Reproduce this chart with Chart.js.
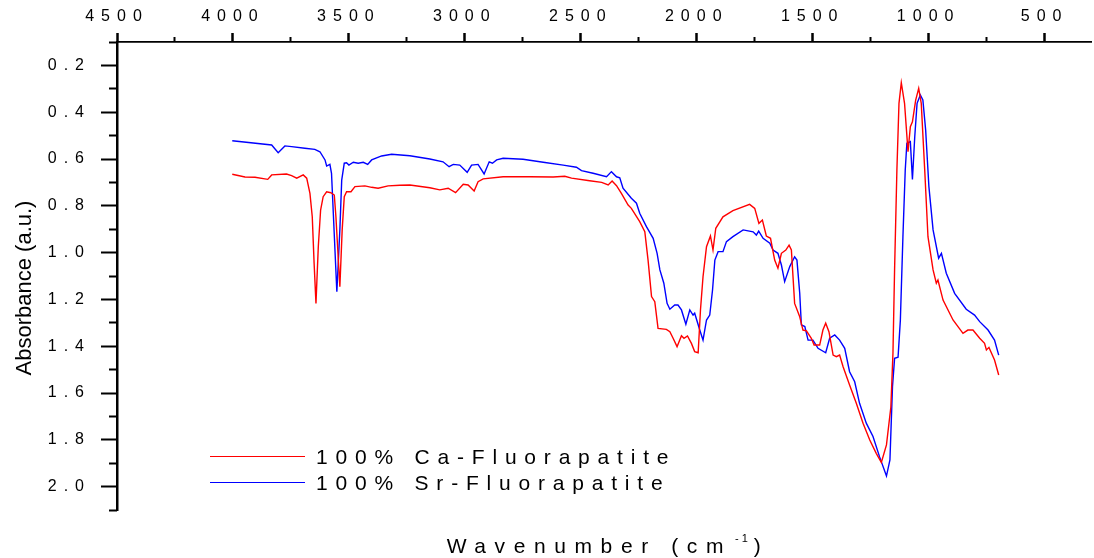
<!DOCTYPE html>
<html>
<head>
<meta charset="utf-8">
<script src="https://cdn.jsdelivr.net/npm/chart.js@4/dist/chart.umd.min.js"></script>
<style>
body { margin: 0; background: #fff; }
#wrap { width: 1094px; height: 558px; }
</style>
</head>
<body>
<div id="wrap"><canvas id="myChart" width="1094" height="558"></canvas></div>
<script>
// tick values
var xMajor = [4500, 4000, 3500, 3000, 2500, 2000, 1500, 1000, 500];
var xMinor = [4250, 3750, 3250, 2750, 2250, 1750, 1250, 750];
var yMajor = [0.2, 0.4, 0.6, 0.8, 1.0, 1.2, 1.4, 1.6, 1.8, 2.0];
var yMinor = [0.1, 0.3, 0.5, 0.7, 0.9, 1.1, 1.3, 1.5, 1.7, 1.9, 2.1];

// 100% Ca-Fluorapatite (red)
var caWave = [4003, 3948, 3905, 3850, 3833, 3769, 3747, 3725, 3697, 3682,
    3668, 3658, 3650, 3642, 3632, 3622, 3611, 3596, 3578, 3563,
    3556, 3539, 3529, 3520, 3510, 3491, 3474, 3431, 3402, 3374,
    3331, 3280, 3237, 3151, 3108, 3072, 3040, 3007, 2986, 2960,
    2943, 2921, 2835, 2720, 2619, 2569, 2540, 2462, 2410, 2382,
    2365, 2346, 2325, 2296, 2282, 2246, 2224, 2210, 2195, 2181,
    2167, 2131, 2116, 2102, 2085, 2066, 2055, 2040, 2023, 2009,
    1994, 1984, 1973, 1958, 1941, 1930, 1918, 1887, 1844, 1772,
    1750, 1732, 1717, 1700, 1682, 1664, 1650, 1635, 1616, 1602,
    1592, 1578, 1556, 1542, 1527, 1506, 1494, 1470, 1456, 1444,
    1430, 1412, 1398, 1384, 1369, 1341, 1312, 1283, 1254, 1226,
    1204, 1182, 1163, 1154, 1147, 1137, 1128, 1118, 1104, 1089,
    1079, 1070, 1056, 1043, 1032, 1017, 1003, 981, 967, 960,
    938, 895, 852, 831, 809, 780, 759, 751, 740, 716,
    698];
var caAbs = [0.665, 0.677, 0.678, 0.687, 0.668, 0.664, 0.671, 0.682, 0.668, 0.682,
    0.747, 0.847, 1.046, 1.217, 0.975, 0.818, 0.761, 0.740, 0.744, 0.754,
    0.847, 1.146, 0.903, 0.761, 0.740, 0.740, 0.718, 0.715, 0.721, 0.725,
    0.715, 0.712, 0.711, 0.723, 0.732, 0.725, 0.744, 0.708, 0.711, 0.737,
    0.697, 0.685, 0.676, 0.676, 0.677, 0.674, 0.682, 0.693, 0.700, 0.711,
    0.694, 0.714, 0.747, 0.797, 0.811, 0.868, 0.911, 1.032, 1.188, 1.210,
    1.324, 1.328, 1.338, 1.366, 1.402, 1.355, 1.366, 1.356, 1.388, 1.423,
    1.428, 1.245, 1.103, 0.975, 0.929, 0.989, 0.896, 0.847, 0.821, 0.794,
    0.811, 0.875, 0.861, 0.929, 0.939, 1.032, 1.067, 1.003, 0.989, 0.968,
    0.989, 1.217, 1.274, 1.331, 1.334, 1.366, 1.395, 1.395, 1.331, 1.302,
    1.338, 1.438, 1.445, 1.438, 1.488, 1.566, 1.644, 1.729, 1.801, 1.858,
    1.897, 1.822, 1.660, 1.430, 1.074, 0.647, 0.362, 0.274, 0.362, 0.569,
    0.462, 0.441, 0.348, 0.298, 0.362, 0.647, 0.932, 1.074, 1.131, 1.117,
    1.203, 1.288, 1.345, 1.331, 1.331, 1.366, 1.388, 1.416, 1.405, 1.459,
    1.523];

// 100% Sr-Fluorapatite (blue)
var srWave = [4003, 3833, 3805, 3776, 3747, 3690, 3647, 3625, 3603, 3596,
    3582, 3575, 3552, 3539, 3531, 3520, 3510, 3500, 3481, 3460,
    3438, 3419, 3402, 3359, 3316, 3237, 3151, 3094, 3068, 3050,
    3022, 2990, 2971, 2943, 2917, 2895, 2881, 2863, 2835, 2749,
    2662, 2576, 2519, 2497, 2447, 2389, 2368, 2346, 2332, 2318,
    2282, 2260, 2246, 2217, 2188, 2171, 2159, 2142, 2128, 2116,
    2095, 2081, 2066, 2047, 2030, 2016, 2009, 1987, 1973, 1958,
    1944, 1932, 1922, 1908, 1887, 1872, 1844, 1800, 1757, 1743,
    1733, 1714, 1685, 1671, 1650, 1635, 1621, 1599, 1578, 1568,
    1556, 1549, 1534, 1520, 1499, 1477, 1444, 1427, 1405, 1384,
    1362, 1341, 1319, 1298, 1269, 1240, 1212, 1182, 1167, 1156,
    1147, 1132, 1122, 1111, 1101, 1094, 1079, 1070, 1060, 1050,
    1036, 1025, 1013, 999, 981, 957, 945, 924, 888, 838,
    802, 780, 744, 716, 698];
var srAbs = [0.522, 0.540, 0.573, 0.544, 0.547, 0.554, 0.559, 0.569, 0.604, 0.630,
    0.623, 0.661, 1.167, 0.903, 0.690, 0.618, 0.616, 0.626, 0.614, 0.618,
    0.614, 0.623, 0.604, 0.587, 0.580, 0.586, 0.600, 0.612, 0.633, 0.623,
    0.626, 0.657, 0.626, 0.623, 0.664, 0.612, 0.618, 0.604, 0.597, 0.601,
    0.614, 0.626, 0.635, 0.650, 0.661, 0.676, 0.654, 0.676, 0.680, 0.725,
    0.768, 0.789, 0.832, 0.889, 0.939, 1.003, 1.074, 1.131, 1.217, 1.242,
    1.224, 1.224, 1.245, 1.306, 1.245, 1.267, 1.259, 1.331, 1.374, 1.288,
    1.267, 1.160, 1.032, 0.996, 0.996, 0.953, 0.932, 0.903, 0.911, 0.925,
    0.908, 0.939, 0.960, 0.989, 1.003, 1.053, 1.124, 1.060, 1.018, 1.032,
    1.174, 1.309, 1.316, 1.374, 1.374, 1.409, 1.428, 1.366, 1.352, 1.374,
    1.409, 1.509, 1.552, 1.644, 1.729, 1.786, 1.872, 1.955, 1.886, 1.573,
    1.452, 1.447, 1.288, 0.932, 0.647, 0.533, 0.526, 0.687, 0.505, 0.362,
    0.326, 0.348, 0.476, 0.718, 0.903, 1.024, 1.003, 1.088, 1.174, 1.242,
    1.267, 1.295, 1.331, 1.374, 1.438];

function toPoints(wave, abs) {
    var pts = [];
    for (var i = 0; i < wave.length; i++) {
        pts.push({ x: wave[i], y: abs[i] });
    }
    return pts;
}

var fontFam = 'Arial, "Liberation Sans", sans-serif';

// spaced out lettering, legend and axis titles
var extras = {
    id: 'extras',
    beforeDraw: function (chart) {
        chart.ctx.letterSpacing = '7px';
    },
    afterDraw: function (chart) {
        var ctx = chart.ctx;
        var area = chart.chartArea;
        ctx.save();

        // legend
        ctx.font = '21px ' + fontFam;
        ctx.letterSpacing = '7.8px';
        ctx.textAlign = 'left';
        ctx.textBaseline = 'alphabetic';
        var rows = [456, 482];
        chart.data.datasets.forEach(function (ds, i) {
            ctx.strokeStyle = ds.borderColor;
            ctx.lineWidth = 1;
            ctx.beginPath();
            ctx.moveTo(210, rows[i] + 0.5);
            ctx.lineTo(305, rows[i] + 0.5);
            ctx.stroke();
            ctx.fillStyle = '#000';
            ctx.fillText(ds.label, 316, rows[i] + 8);
        });

        // x title with superscript
        var main = 'Wavenumber (cm', sup = '-1', tail = ')';
        ctx.font = '21px ' + fontFam;
        ctx.letterSpacing = '8.6px';
        var w1 = ctx.measureText(main).width;
        var w3 = ctx.measureText(tail).width;
        ctx.font = '11px ' + fontFam;
        ctx.letterSpacing = '3px';
        var w2 = ctx.measureText(sup).width;
        var gap = 3;
        var x0 = (area.left + area.right) / 2 - (w1 + gap + w2 + gap + w3) / 2 + 4;
        var base = 553;
        ctx.font = '21px ' + fontFam;
        ctx.letterSpacing = '8.6px';
        ctx.fillText(main, x0, base);
        ctx.font = '11px ' + fontFam;
        ctx.letterSpacing = '3px';
        ctx.fillText(sup, x0 + w1 + gap, base - 11);
        ctx.font = '21px ' + fontFam;
        ctx.letterSpacing = '8.6px';
        ctx.fillText(tail, x0 + w1 + gap + w2 + gap, base);

        // y title
        ctx.letterSpacing = '0px';
        ctx.font = '22px ' + fontFam;
        ctx.textAlign = 'center';
        ctx.translate(30.5, (area.top + area.bottom) / 2 + 12);
        ctx.rotate(-Math.PI / 2);
        ctx.fillText('Absorbance (a.u.)', 0, 0);

        ctx.restore();
    }
};

var ctx = document.getElementById('myChart').getContext('2d');
var myChart = new Chart(ctx, {
    type: 'line',
    data: {
        datasets: [{
            label: '100% Ca-Fluorapatite',
            data: toPoints(caWave, caAbs),
            borderColor: '#ff0000',
            borderWidth: 1.4,
            pointRadius: 0,
            tension: 0,
            xAxisID: 'x',
            yAxisID: 'y'
        }, {
            label: '100% Sr-Fluorapatite',
            data: toPoints(srWave, srAbs),
            borderColor: '#0000ff',
            borderWidth: 1.4,
            pointRadius: 0,
            tension: 0,
            xAxisID: 'x',
            yAxisID: 'y'
        }]
    },
    options: {
        responsive: false,
        animation: false,
        layout: { padding: { left: 0, top: 0, right: 3, bottom: 48 } },
        plugins: {
            legend: { display: false },
            tooltip: { enabled: false }
        },
        scales: {
            x: {
                type: 'linear',
                position: 'top',
                reverse: true,
                min: 300,
                max: 4500,
                weight: 1,
                afterFit: function (s) { s.height = 42; },
                afterBuildTicks: function (s) {
                    s.ticks = xMajor.map(function (v) { return { value: v }; });
                },
                ticks: {
                    color: '#000',
                    font: { size: 16, family: fontFam },
                    padding: 7,
                    maxRotation: 0,
                    autoSkip: false,
                    callback: function (v) { return String(v); }
                },
                grid: { drawOnChartArea: false, tickLength: 9, tickWidth: 2.5, tickColor: '#000' },
                border: { color: '#000', width: 1.8 }
            },
            xMinor: {
                type: 'linear',
                position: 'top',
                reverse: true,
                min: 300,
                max: 4500,
                weight: 0,
                afterFit: function (s) { s.height = 0; },
                afterBuildTicks: function (s) {
                    s.ticks = xMinor.map(function (v) { return { value: v }; });
                },
                ticks: { display: false },
                grid: { drawOnChartArea: false, tickLength: 5, tickWidth: 2, tickColor: '#000' },
                border: { display: false }
            },
            y: {
                type: 'linear',
                position: 'left',
                reverse: true,
                min: 0.1,
                max: 2.1,
                weight: 1,
                afterFit: function (s) { s.width = 117; },
                afterBuildTicks: function (s) {
                    s.ticks = yMajor.map(function (v) { return { value: v }; });
                },
                ticks: {
                    color: '#000',
                    font: { size: 16, family: fontFam },
                    padding: 10,
                    callback: function (v) { return v.toFixed(1); }
                },
                grid: { drawOnChartArea: false, tickLength: 16, tickWidth: 2, tickColor: '#000' },
                border: { color: '#000', width: 2.5 }
            },
            yMinor: {
                type: 'linear',
                position: 'left',
                reverse: true,
                min: 0.1,
                max: 2.1,
                weight: 0,
                afterFit: function (s) { s.width = 0; },
                afterBuildTicks: function (s) {
                    s.ticks = yMinor.map(function (v) { return { value: v }; });
                },
                ticks: { display: false },
                grid: { drawOnChartArea: false, tickLength: 8, tickWidth: 2, tickColor: '#000' },
                border: { display: false }
            }
        }
    },
    plugins: [extras]
});
</script>
</body>
</html>
